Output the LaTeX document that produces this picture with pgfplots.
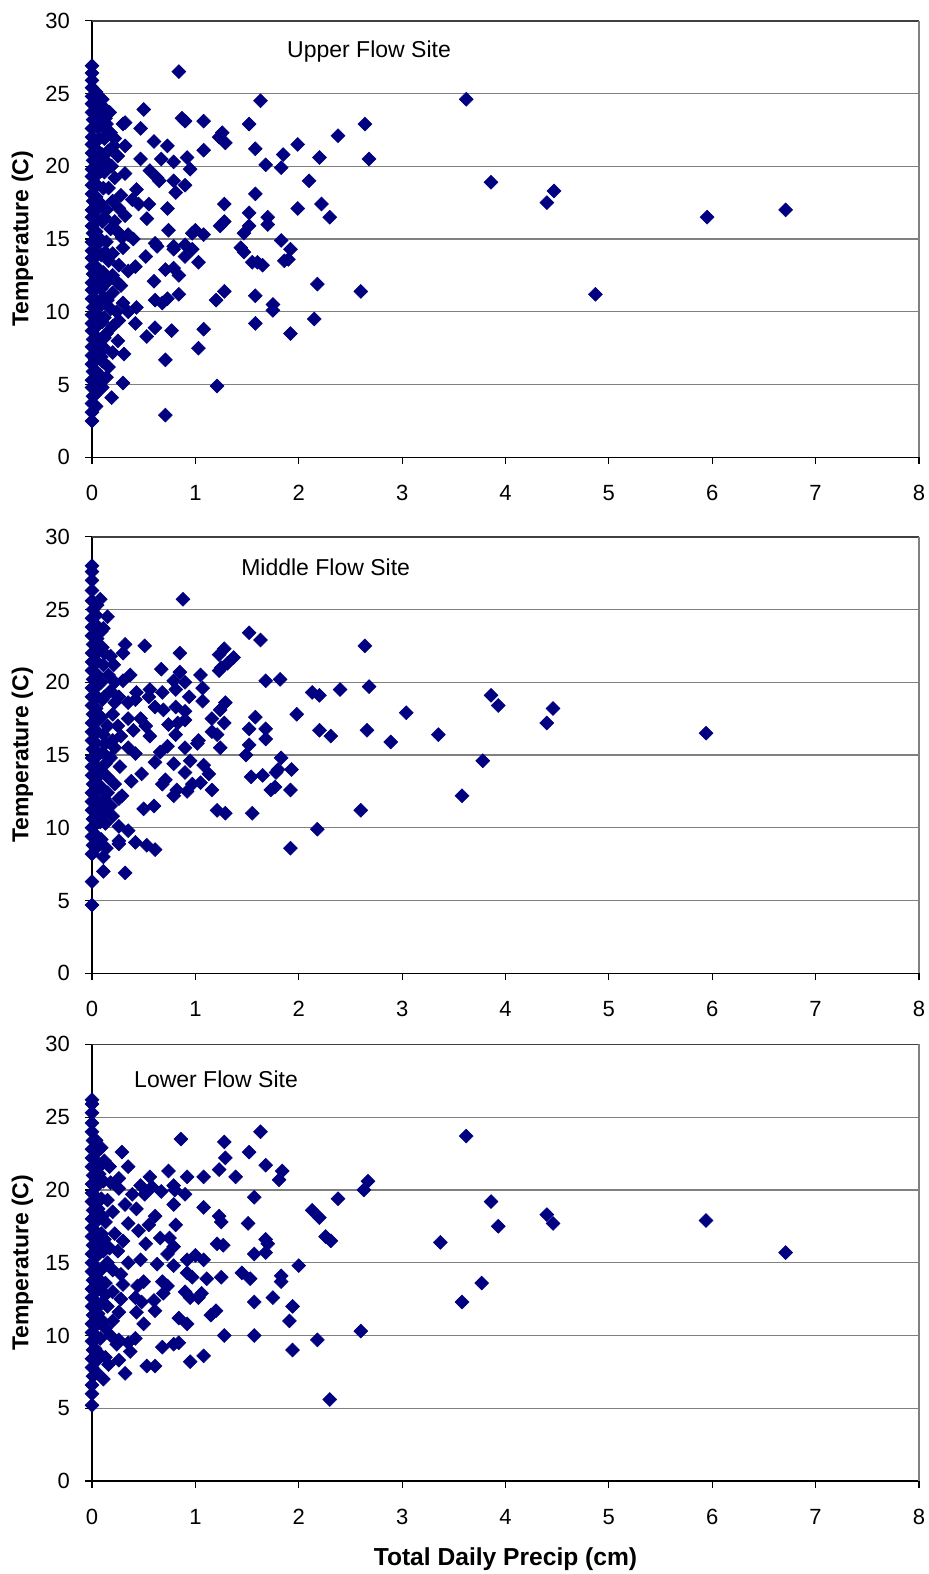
\documentclass[border=0pt]{standalone}
\usepackage{pgfplots}
\usepackage{pgfplotstable}
\pgfplotsset{compat=1.18}
\usepackage{fontspec}
\setmainfont{Liberation Sans}
\definecolor{navy}{RGB}{0,0,128}
\definecolor{gridgray}{RGB}{128,128,128}
\definecolor{topgray}{RGB}{64,64,64}

\pgfplotstableread{
x y
0.84 26.5
1.63 24.5
3.62 24.6
3.86 18.9
4.40 17.5
4.47 18.3
4.87 11.2
5.95 16.5
6.71 17.0
2.64 22.9
2.68 20.5
2.60 11.4
2.38 22.1
2.20 20.6
2.10 19.0
2.22 17.4
2.30 16.5
2.18 11.9
2.15 9.5
1.99 21.5
1.99 17.1
1.85 20.8
1.83 19.9
1.83 14.9
1.92 14.3
1.90 13.6
1.92 8.5
1.86 13.5
1.68 20.1
1.58 21.2
1.58 18.1
1.70 16.5
1.70 16.0
1.60 13.4
1.65 13.2
1.58 11.1
1.75 10.5
1.75 10.1
1.58 9.2
1.52 22.9
1.52 16.8
1.52 15.9
1.47 15.4
1.44 14.4
1.47 14.1
1.55 13.4
0.50 23.9
0.87 23.3
0.90 23.1
1.08 23.1
0.30 22.9
0.32 23.0
0.17 23.7
0.14 22.9
0.47 22.6
1.26 22.3
1.23 22.0
1.29 21.6
0.60 21.7
0.73 21.4
0.32 21.4
0.21 21.4
1.08 21.1
0.47 20.5
0.67 20.5
0.79 20.3
0.92 20.6
0.95 19.8
0.56 19.7
0.63 19.2
0.65 19.0
0.32 19.5
0.79 19.0
0.90 18.7
0.81 18.2
0.43 18.4
1.28 17.4
0.39 17.7
0.45 17.4
0.55 17.4
0.73 17.1
0.26 17.1
0.53 16.4
1.28 16.2
1.24 15.9
0.74 15.6
1.00 15.6
1.08 15.3
0.97 15.4
0.61 14.7
0.79 14.5
0.90 14.6
0.35 15.3
0.29 15.1
0.40 15.0
0.63 14.5
0.79 14.3
0.97 14.3
0.90 13.8
1.03 13.4
0.71 12.9
0.79 13.0
0.84 12.5
0.42 13.1
0.52 13.8
0.60 12.1
1.28 11.4
1.20 10.8
0.84 11.2
0.73 10.9
0.61 10.8
0.68 10.6
0.43 10.3
0.35 10.0
0.24 10.0
0.26 9.4
0.42 9.2
0.61 8.9
0.53 8.3
0.77 8.7
1.08 8.8
1.03 7.5
0.31 7.1
0.16 6.2
0.71 6.7
0.30 5.1
1.21 4.9
0.19 4.1
0.71 2.9
0.12 24.0
0.18 22.3
0.22 21.9
0.15 21.0
0.25 20.7
0.19 20.0
0.12 19.6
0.22 19.2
0.16 18.5
0.28 18.0
0.20 17.6
0.14 17.0
0.32 16.6
0.22 16.2
0.18 15.7
0.25 15.5
0.14 14.8
0.30 14.4
0.20 14.0
0.16 13.5
0.26 13.2
0.35 12.8
0.20 12.5
0.14 12.0
0.25 12.0
0.28 11.8
0.20 11.3
0.15 10.8
0.30 10.6
0.18 10.2
0.12 9.6
0.20 9.0
0.14 8.5
0.25 8.0
0.12 7.5
0.20 7.2
0.10 6.6
0.14 5.5
0.10 4.8
0.00 2.5
0.00 3.1
0.00 3.7
0.01 4.2
0.00 4.8
0.00 5.3
0.01 5.9
0.00 6.4
0.00 7.0
0.00 7.6
0.01 8.1
0.00 8.7
0.00 9.2
0.00 9.8
0.01 10.3
0.00 10.9
0.00 11.5
0.00 12.0
0.01 12.6
0.00 13.1
0.00 13.7
0.00 14.2
0.00 14.8
0.01 15.4
0.00 15.9
0.00 16.5
0.00 17.0
0.01 17.6
0.00 18.1
0.00 18.7
0.00 19.3
0.00 19.8
0.01 20.4
0.00 20.9
0.00 21.5
0.00 22.0
0.00 22.6
0.01 23.2
0.00 23.7
0.00 24.3
0.00 24.8
0.00 25.4
0.00 25.9
0.00 26.4
0.00 26.9
0.04 3.5
0.03 4.3
0.05 5.1
0.04 5.9
0.03 6.7
0.05 7.5
0.04 8.3
0.06 9.1
0.04 9.9
0.05 10.7
0.03 11.5
0.06 12.3
0.04 13.1
0.05 13.9
0.06 14.7
0.04 15.5
0.05 16.3
0.06 17.1
0.04 17.9
0.05 18.7
0.06 19.5
0.04 20.3
0.05 21.1
0.07 21.9
0.05 22.7
0.06 23.5
0.05 24.3
0.04 25.1
0.08 5.6
0.09 6.9
0.08 8.0
0.10 9.3
0.08 10.4
0.09 11.6
0.11 12.7
0.09 13.9
0.08 15.0
0.10 16.2
0.09 17.4
0.11 18.5
0.09 19.7
0.10 20.8
0.12 21.9
0.09 23.0
0.10 24.6
0.13 23.3
0.13 22.5
0.14 20.3
0.12 16.5
0.13 14.1
0.11 11.0
0.12 8.2
}\upperdata

\pgfplotstableread{
x y
0.88 25.7
1.52 23.4
1.63 22.9
2.64 22.5
2.40 19.5
2.13 19.3
2.20 19.1
1.98 17.8
2.20 16.7
2.31 16.3
2.66 16.7
2.68 19.7
3.04 17.9
2.89 15.9
3.35 16.4
3.86 19.1
3.93 18.4
3.78 14.6
3.58 12.2
4.40 17.2
4.46 18.2
5.94 16.5
2.60 11.2
2.18 9.9
1.92 8.6
1.80 14.0
1.77 12.8
1.93 14.0
1.92 12.6
1.82 20.2
1.68 20.1
1.55 11.0
0.08 25.7
0.11 23.7
0.32 22.6
0.30 22.0
0.51 22.5
0.85 22.0
1.28 22.3
1.23 21.9
1.37 21.7
1.31 21.3
1.23 20.8
1.25 21.0
0.67 20.9
0.85 20.7
1.05 20.5
0.21 21.2
0.16 20.5
0.37 20.5
0.30 20.1
0.79 20.1
0.90 20.0
0.81 19.5
1.07 19.6
0.43 19.3
0.56 19.5
0.68 19.3
0.94 19.0
0.55 19.0
0.42 18.8
1.07 18.7
1.29 18.6
0.26 19.0
0.22 18.6
0.35 18.6
0.61 18.3
0.69 18.1
0.81 18.3
0.90 18.0
1.24 18.1
1.16 17.5
1.28 17.2
1.58 17.6
1.52 16.8
1.68 16.8
1.68 16.1
0.35 17.5
0.47 17.5
0.52 17.0
0.40 16.7
0.74 17.1
0.83 17.2
0.90 17.4
0.81 16.4
1.03 16.0
1.16 16.6
1.21 16.4
0.56 16.3
0.28 16.3
1.24 15.5
1.52 15.7
1.49 15.0
1.83 14.8
1.54 13.5
1.65 13.6
1.78 13.8
1.73 12.6
1.02 15.8
0.90 15.5
0.73 15.6
0.66 15.2
0.95 14.6
1.08 14.3
0.79 14.4
0.61 14.5
0.90 13.8
1.13 13.7
1.05 13.1
0.97 13.0
0.82 12.6
0.79 12.2
0.92 12.5
0.71 13.3
0.68 13.0
0.48 13.7
0.38 13.2
0.42 15.1
0.35 15.5
0.27 14.2
0.29 12.2
0.26 12.0
0.50 11.3
0.60 11.5
1.16 12.6
1.21 11.2
1.29 11.0
0.13 10.3
0.26 10.1
0.35 9.8
0.26 9.1
0.26 8.9
0.42 9.0
0.53 8.8
0.61 8.5
0.14 8.6
0.11 8.0
0.11 7.0
0.32 6.9
0.00 6.3
0.00 4.7
0.15 24.5
0.12 22.0
0.18 21.8
0.20 17.8
0.15 17.0
0.22 15.5
0.18 14.8
0.15 13.5
0.22 13.0
0.18 11.5
0.15 12.4
0.20 10.8
0.12 11.0
0.22 20.0
0.25 17.0
0.20 16.0
0.13 15.8
0.18 19.4
0.00 8.2
0.01 8.8
0.00 9.4
0.00 10.0
0.01 10.6
0.00 11.2
0.00 11.8
0.00 12.4
0.01 13.0
0.00 13.6
0.00 14.2
0.00 14.8
0.01 15.4
0.00 16.0
0.00 16.6
0.00 17.2
0.01 17.8
0.00 18.4
0.00 19.0
0.00 19.6
0.01 20.2
0.00 20.8
0.00 21.4
0.00 22.0
0.01 22.6
0.00 23.2
0.00 23.8
0.00 24.4
0.01 25.0
0.00 25.6
0.00 26.3
0.00 27.0
0.00 27.6
0.00 28.0
0.04 8.6
0.05 9.4
0.03 10.2
0.05 11.0
0.04 11.8
0.06 12.6
0.04 13.4
0.05 14.2
0.06 15.0
0.04 15.8
0.05 16.6
0.06 17.4
0.04 18.2
0.05 19.0
0.06 19.8
0.04 20.6
0.05 21.4
0.07 22.2
0.05 23.0
0.06 23.8
0.04 24.6
0.05 25.3
0.09 9.2
0.08 10.4
0.10 11.6
0.09 12.8
0.08 14.0
0.10 15.2
0.11 16.4
0.09 17.6
0.10 18.8
0.09 20.0
0.11 21.2
0.10 22.4
0.09 23.5
0.12 19.0
0.13 14.4
0.12 12.0
}\middledata

\pgfplotstableread{
x y
3.62 23.7
3.86 19.2
3.93 17.5
4.40 18.3
4.46 17.7
5.94 17.9
6.71 15.7
3.37 16.4
3.58 12.3
3.77 13.6
2.13 18.6
2.20 18.1
2.38 19.4
2.26 16.8
2.31 16.5
2.63 20.0
2.67 20.6
2.18 9.7
2.60 10.3
2.30 5.6
2.00 14.8
1.94 12.0
1.91 11.0
1.94 9.0
1.83 14.1
1.83 13.7
1.84 21.3
1.81 20.7
1.68 21.7
1.63 24.0
0.86 23.5
1.28 23.3
1.52 22.6
0.29 22.6
0.17 21.6
0.35 21.6
1.29 22.2
1.23 21.4
0.74 21.3
0.92 20.9
1.08 20.9
1.39 20.9
0.56 20.9
0.26 20.8
0.26 20.1
0.47 20.3
0.58 20.2
0.67 19.9
0.79 20.3
0.80 20.0
0.90 19.7
0.39 19.7
0.51 19.7
1.57 19.5
0.79 19.0
0.32 19.0
0.43 18.7
1.08 18.8
1.23 18.2
1.25 17.8
1.51 17.7
0.61 18.2
0.55 17.6
0.35 17.7
0.45 17.2
0.81 17.6
0.66 16.7
0.75 16.7
0.79 16.1
1.21 16.3
1.27 16.2
1.68 16.6
1.70 16.3
1.57 15.6
1.68 15.7
1.00 15.5
1.08 15.2
0.92 15.2
0.79 14.8
0.63 14.9
0.73 15.6
0.47 15.2
0.52 16.3
0.92 14.3
0.97 14.0
1.11 13.9
1.25 14.0
1.45 14.3
1.53 13.9
0.68 13.7
0.73 13.4
0.50 13.7
0.44 13.4
0.90 13.0
0.95 12.6
1.06 12.9
1.03 12.6
0.69 12.9
0.60 12.4
0.42 12.6
0.48 12.3
0.28 12.5
1.57 12.3
1.75 12.6
1.20 11.7
1.15 11.4
0.61 11.7
0.43 11.6
0.26 11.6
0.84 11.2
0.92 10.8
0.50 10.8
1.28 10.0
1.57 10.0
0.84 9.5
0.79 9.4
0.68 9.2
0.42 9.8
0.35 9.5
0.37 8.9
0.26 9.7
0.24 9.4
1.08 8.6
0.95 8.2
0.53 7.9
0.61 7.9
0.32 7.4
0.26 8.3
0.13 8.5
0.16 8.0
0.11 7.0
0.00 6.0
0.00 5.2
0.12 22.0
0.18 20.5
0.15 19.3
0.20 18.5
0.13 17.8
0.22 17.0
0.17 16.0
0.25 15.8
0.15 15.0
0.20 14.5
0.28 14.2
0.13 13.6
0.20 13.0
0.15 12.0
0.20 11.0
0.13 10.5
0.18 10.0
0.30 16.5
0.35 15.0
0.30 13.5
0.00 6.6
0.01 7.2
0.00 7.8
0.00 8.4
0.01 9.0
0.00 9.6
0.00 10.2
0.00 10.8
0.01 11.4
0.00 12.0
0.00 12.6
0.00 13.2
0.01 13.8
0.00 14.4
0.00 15.0
0.00 15.6
0.01 16.2
0.00 16.8
0.00 17.4
0.00 18.0
0.01 18.6
0.00 19.2
0.00 19.8
0.00 20.4
0.01 21.0
0.00 21.6
0.00 22.2
0.00 22.8
0.01 23.4
0.00 24.0
0.00 24.6
0.00 25.3
0.00 25.9
0.00 26.2
0.04 7.5
0.05 8.3
0.03 9.1
0.05 9.9
0.04 10.7
0.06 11.5
0.04 12.3
0.05 13.1
0.06 13.9
0.04 14.7
0.05 15.5
0.06 16.3
0.04 17.1
0.05 17.9
0.06 18.7
0.04 19.5
0.05 20.3
0.07 21.1
0.05 21.9
0.06 22.7
0.04 23.4
0.09 8.6
0.08 9.8
0.10 11.0
0.09 12.2
0.08 13.4
0.10 14.6
0.11 15.8
0.09 17.0
0.10 18.2
0.09 19.4
0.11 20.6
0.10 21.8
0.09 22.9
0.12 16.6
0.13 12.8
}\lowerdata

\pgfplotsset{
  panel/.style={
    scale only axis, width=413.5pt, height=218.3pt,
    xmin=0, xmax=8, ymin=0, ymax=30,
    xtick={0,1,...,8}, ytick={0,5,...,30},
    axis x line*=bottom, axis y line*=left,
    axis line style={black, line width=0.6pt},
    tick align=outside, major tick length=3.5pt,
    tick style={black, line width=0.6pt},
    ymajorgrids, major grid style={gridgray, line width=0.6pt},
    tick label style={font=\fontsize{11}{13}\selectfont},
    /pgf/number format/assume math mode=true,
    xticklabel style={yshift=-7pt},
    yticklabel style={xshift=-4pt},
    ylabel={Temperature (C)},
    ylabel style={font=\bfseries\fontsize{11.5}{13}\selectfont, at={(axis description cs:-0.084,0.5)}, anchor=center},
    clip=false,
  },
  pts/.style={only marks, mark=square*, mark size=2.45pt, mark options={rotate=45, fill=navy, draw=navy, line width=0.3pt}},
}

\begin{document}
\begin{tikzpicture}
\begin{axis}[panel, at={(46pt,-228.65pt)}, anchor=south west]
  \addplot[pts] table {\upperdata};
  \draw[topgray, line width=0.8pt] (rel axis cs:0,1) -- (rel axis cs:1,1);
  \draw[gridgray, line width=0.8pt] (rel axis cs:1,1) -- (rel axis cs:1,0);
  \node[font=\fontsize{11.5}{13}\selectfont] at (axis cs:2.68,27.9) {Upper Flow Site};
\end{axis}
\begin{axis}[panel, at={(46pt,-486.65pt)}, anchor=south west]
  \addplot[pts] table {\middledata};
  \draw[topgray, line width=0.8pt] (rel axis cs:0,1) -- (rel axis cs:1,1);
  \draw[gridgray, line width=0.8pt] (rel axis cs:1,1) -- (rel axis cs:1,0);
  \node[font=\fontsize{11.5}{13}\selectfont] at (axis cs:2.26,27.9) {Middle Flow Site};
\end{axis}
\begin{axis}[panel, at={(46pt,-740.5pt)}, anchor=south west,
  xlabel={Total Daily Precip (cm)},
  xlabel style={font=\bfseries\fontsize{12.3}{14}\selectfont, at={(axis description cs:0.5,0)}, anchor=center, yshift=-39pt}]
  \addplot[pts] table {\lowerdata};
  \draw[topgray, line width=0.8pt] (rel axis cs:0,1) -- (rel axis cs:1,1);
  \draw[gridgray, line width=0.8pt] (rel axis cs:1,1) -- (rel axis cs:1,0);
  \node[font=\fontsize{11.5}{13}\selectfont] at (axis cs:1.2,27.6) {Lower Flow Site};
\end{axis}
\pgfresetboundingbox
\path[use as bounding box] (0,0) rectangle (464.5pt,-787pt);
\end{tikzpicture}
\end{document}
